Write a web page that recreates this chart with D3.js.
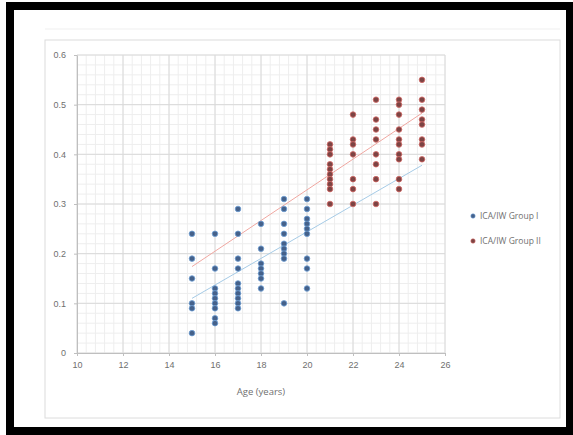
<!DOCTYPE html>
<html lang="en">
<head>
    <meta charset="UTF-8">
    <title>ICA/IW by Age</title>
    <script src="https://d3js.org/d3.v7.min.js"></script>
    <style>
        body {
            margin: 0;
            background: white;
            font-family: "Open Sans", "DejaVu Sans", sans-serif;
        }
        .axis text {
            font-size: 9px;
            fill: #6f6f6f;
        }
        .axis path, .axis line {
            stroke: #bfbfbf;
        }
        .legend text {
            font-size: 8.5px;
            fill: #6f6f6f;
        }
    </style>
</head>
<body>
    <div id="chart"></div>

    <script>
        // ages (x) and ICA/IW values
        const group1Ages = [15, 16, 17, 18, 19, 20];
        const group1Values = [
            [0.24, 0.19, 0.15, 0.10, 0.09, 0.04],
            [0.24, 0.17, 0.13, 0.12, 0.11, 0.10, 0.09, 0.07, 0.06],
            [0.29, 0.24, 0.19, 0.17, 0.14, 0.13, 0.12, 0.11, 0.10, 0.09],
            [0.26, 0.21, 0.18, 0.17, 0.16, 0.15, 0.13],
            [0.31, 0.29, 0.26, 0.24, 0.22, 0.21, 0.20, 0.19, 0.10],
            [0.31, 0.29, 0.27, 0.26, 0.25, 0.24, 0.19, 0.17, 0.13]
        ];
        const group2Ages = [21, 22, 23, 24, 25];
        const group2Values = [
            [0.42, 0.41, 0.40, 0.38, 0.37, 0.36, 0.35, 0.34, 0.33, 0.30],
            [0.48, 0.43, 0.42, 0.40, 0.35, 0.33, 0.30],
            [0.51, 0.47, 0.45, 0.43, 0.40, 0.38, 0.35, 0.30],
            [0.51, 0.50, 0.48, 0.45, 0.43, 0.42, 0.40, 0.39, 0.35, 0.33],
            [0.55, 0.51, 0.49, 0.47, 0.46, 0.43, 0.42, 0.39]
        ];

        // the two straight lines across the cloud
        const upperLine = [{ x: 15, y: 0.174 }, { x: 25, y: 0.483 }];
        const lowerLine = [{ x: 15, y: 0.11 }, { x: 25, y: 0.378 }];

        const xTicks = [10, 12, 14, 16, 18, 20, 22, 24, 26];
        const yTicks = [0, 0.1, 0.2, 0.3, 0.4, 0.5, 0.6];
        const seriesNames = ["ICA/IW Group I", "ICA/IW Group II"];

        const W = 573, H = 435;
        const svg = d3.select("#chart").append("svg")
            .attr("width", W)
            .attr("height", H);

        // black picture frame
        svg.append("rect").attr("x", 6).attr("y", 2).attr("width", W - 6).attr("height", H - 2).attr("fill", "black");
        svg.append("rect").attr("x", 14).attr("y", 10).attr("width", 552).attr("height", 417).attr("fill", "white");

        // chart area border
        svg.append("line").attr("x1", 45).attr("x2", 560).attr("y1", 29).attr("y2", 29)
            .attr("stroke", "#efefef");
        svg.append("rect").attr("x", 45).attr("y", 40).attr("width", 515).attr("height", 378)
            .attr("fill", "white").attr("stroke", "#dcdcdc");

        const x = d3.scaleLinear().domain([10, 26]).range([77, 445]);
        const y = d3.scaleLinear().domain([0, 0.6]).range([353, 55]);

        // minor gridlines
        const grid = svg.append("g");
        grid.selectAll(".minor-x")
            .data(d3.range(10, 26.01, 0.4))
            .enter().append("line")
            .attr("x1", d => x(d)).attr("x2", d => x(d))
            .attr("y1", y(0)).attr("y2", y(0.6))
            .attr("stroke", "#eeeeee");
        grid.selectAll(".minor-y")
            .data(d3.range(0, 0.601, 0.02))
            .enter().append("line")
            .attr("x1", x(10)).attr("x2", x(26))
            .attr("y1", d => y(d)).attr("y2", d => y(d))
            .attr("stroke", "#eeeeee");
        // major gridlines
        grid.selectAll(".major-x")
            .data(xTicks)
            .enter().append("line")
            .attr("x1", d => x(d)).attr("x2", d => x(d))
            .attr("y1", y(0)).attr("y2", y(0.6))
            .attr("stroke", "#dadada");
        grid.selectAll(".major-y")
            .data(yTicks)
            .enter().append("line")
            .attr("x1", x(10)).attr("x2", x(26))
            .attr("y1", d => y(d)).attr("y2", d => y(d))
            .attr("stroke", "#dadada");

        // axes
        svg.append("g")
            .attr("class", "axis")
            .attr("transform", `translate(0,${y(0)})`)
            .call(d3.axisBottom(x).tickValues(xTicks).tickSize(3).tickPadding(6).tickSizeOuter(0));
        svg.append("g")
            .attr("class", "axis")
            .attr("transform", `translate(${x(10)},0)`)
            .call(d3.axisLeft(y).tickValues(yTicks).tickSize(3).tickPadding(8).tickSizeOuter(0)
                .tickFormat(d => d === 0 ? "0" : d3.format(".1f")(d)));

        svg.append("text")
            .attr("x", x(18))
            .attr("y", 395)
            .attr("text-anchor", "middle")
            .style("font-size", "9.5px")
            .style("fill", "#6f6f6f")
            .text("Age (years)");

        // trend lines
        const line = d3.line().x(d => x(d.x)).y(d => y(d.y));
        svg.append("path").datum(upperLine).attr("d", line)
            .attr("fill", "none").attr("stroke", "#f0a8a2").attr("stroke-width", 1);
        svg.append("path").datum(lowerLine).attr("d", line)
            .attr("fill", "none").attr("stroke", "#a6cbe6").attr("stroke-width", 1);

        // points
        const flatten = (ages, vals) => ages.flatMap((a, i) => vals[i].map(v => ({ x: a, y: v })));
        const pts1 = flatten(group1Ages, group1Values);
        const pts2 = flatten(group2Ages, group2Values);

        svg.append("g").selectAll("circle")
            .data(pts1)
            .enter().append("circle")
            .attr("cx", d => x(d.x)).attr("cy", d => y(d.y)).attr("r", 2.8)
            .attr("fill", "#45618a").attr("stroke", "#6f9fd6").attr("stroke-width", 0.8);
        svg.append("g").selectAll("circle")
            .data(pts2)
            .enter().append("circle")
            .attr("cx", d => x(d.x)).attr("cy", d => y(d.y)).attr("r", 2.8)
            .attr("fill", "#7c4444").attr("stroke", "#d46a66").attr("stroke-width", 0.8);

        // legend
        const legend = svg.append("g").attr("class", "legend");
        const legendColors = [["#45618a", "#6f9fd6"], ["#7c4444", "#d46a66"]];
        seriesNames.forEach((name, i) => {
            const ly = 216 + i * 25;
            legend.append("circle").attr("cx", 473).attr("cy", ly).attr("r", 2.2)
                .attr("fill", legendColors[i][0]).attr("stroke", legendColors[i][1]).attr("stroke-width", 0.6);
            legend.append("text").attr("x", 480).attr("y", ly).attr("dy", "0.35em").text(name);
        });
    </script>
</body>
</html>
